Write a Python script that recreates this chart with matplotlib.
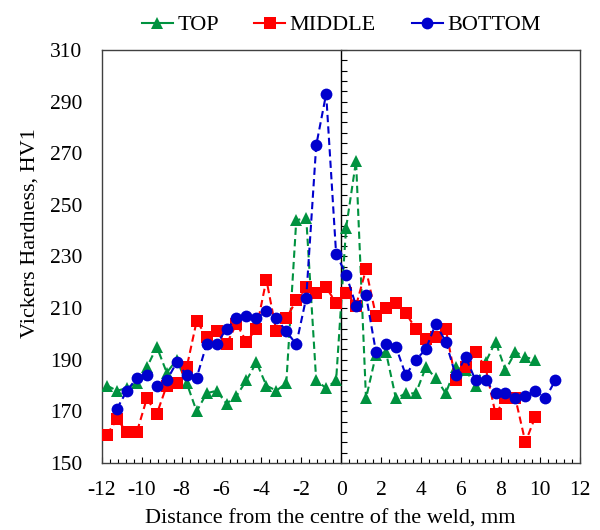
import numpy as np
import matplotlib
matplotlib.use('Agg')
import matplotlib.pyplot as plt
from matplotlib.ticker import MultipleLocator
from matplotlib.lines import Line2D

plt.rcParams['font.family'] = ['Liberation Serif', 'DejaVu Serif']
plt.rcParams['axes.unicode_minus'] = False

nan = np.nan

# distancia ao centro da solda (mm)
distance = [-11.75, -11.25, -10.75, -10.25, -9.75, -9.25, -8.75, -8.25, -7.75, -7.25,
            -6.75, -6.25, -5.75, -5.25, -4.75, -4.25, -3.75, -3.25, -2.75, -2.25,
            -1.75, -1.25, -0.75, -0.25, 0.25, 0.75, 1.25, 1.75, 2.25, 2.75,
            3.25, 3.75, 4.25, 4.75, 5.25, 5.75, 6.25, 6.75, 7.25, 7.75,
            8.25, 8.75, 9.25, 9.75, 10.25, 10.75]

hv_top = [180, 178, 179, 181, 187, 195, 185, 190, 181, 170,
          177, 178, 173, 176, 182, 189, 180, 178, 181, 244,
          245, 182, 179, 182, 241, 267, 175, 192, 193, 175,
          177, 177, 187, 183, 177, 187, 186, 180, 189, 197,
          186, 193, 191, 190, nan, nan]

hv_middle = [161, 167, 162, 162, 175, 169, 180, 181, 187, 205,
             199, 201, 196, 204, 197, 202, 221, 201, 206, 213,
             218, 216, 218, 212, 216, 211, 225, 207, 210, 212,
             208, 202, 198, 199, 202, 182, 187, 193, 187, 169,
             175, 175, 158, 168, nan, nan]

hv_bottom = [nan, 171, 178, 183, 184, 180, 182, 189, 184, 183,
             196, 196, 202, 206, 207, 206, 209, 206, 201, 196,
             214, 273, 293, 231, 223, 211, 215, 193, 196, 195,
             184, 190, 194, 204, 197, 184, 191, 182, 182, 177,
             177, 175, 176, 178, 175, 182]

series = [
    ('TOP', hv_top, '#00923F', '^'),
    ('MIDDLE', hv_middle, '#FF0000', 's'),
    ('BOTTOM', hv_bottom, '#0000CD', 'o'),
]

fig = plt.figure(figsize=(6, 5.3), dpi=100)
ax = fig.add_axes([0.17, 0.1264, 0.797, 0.7793])

handles = []
for i, (nome, valores, cor, marc) in enumerate(series):
    ax.plot(distance, valores, color=cor, linestyle='--', dashes=(3.5, 2), lw=1.5,
            marker=marc, markersize=8.5, markeredgewidth=0, zorder=3 + i)
    handles.append(Line2D([], [], color=cor, lw=1.5, marker=marc,
                          markersize=8.5, markeredgewidth=0))

ax.set_xlim(-12, 12)
ax.set_ylim(150, 310)

ax.xaxis.set_major_locator(MultipleLocator(2))
ax.xaxis.set_minor_locator(MultipleLocator(0.4))
ax.yaxis.set_major_locator(MultipleLocator(20, offset=10))

ax.tick_params(axis='x', which='major', direction='in', length=4.5, width=0.8,
               labelsize=15.5, pad=13)
ax.tick_params(axis='x', which='minor', direction='in', length=3, width=0.8)
ax.tick_params(axis='y', which='both', length=0, labelsize=15.5, pad=14)

for lado in ['left', 'right', 'top', 'bottom']:
    ax.spines[lado].set_color('#404040')
    ax.spines[lado].set_linewidth(1.0)

# eixo vertical no centro (x = 0)
sec = ax.secondary_yaxis(0.5)
sec.yaxis.set_major_locator(MultipleLocator(20, offset=10))
sec.yaxis.set_minor_locator(MultipleLocator(4, offset=2))
sec.tick_params(axis='y', which='both', direction='out', length=4, width=0.8,
                labelright=False, labelleft=False)
for lado in ['left', 'right']:
    sec.spines[lado].set_color('black')
    sec.spines[lado].set_linewidth(1.0)

ax.set_xlabel('Distance from the centre of the weld, mm', fontsize=16)
ax.set_ylabel('Vickers Hardness, HV1', fontsize=16)
ax.xaxis.set_label_coords(0.478, -0.113)
ax.yaxis.set_label_coords(-0.13, 0.557)

ax.legend(handles, [s[0] for s in series], loc='center', bbox_to_anchor=(0.5, 1.06),
          ncol=3, frameon=False, fontsize=16, handlelength=1.4, handletextpad=0.2,
          columnspacing=1.6)

fig.savefig('out.png', dpi=100)
